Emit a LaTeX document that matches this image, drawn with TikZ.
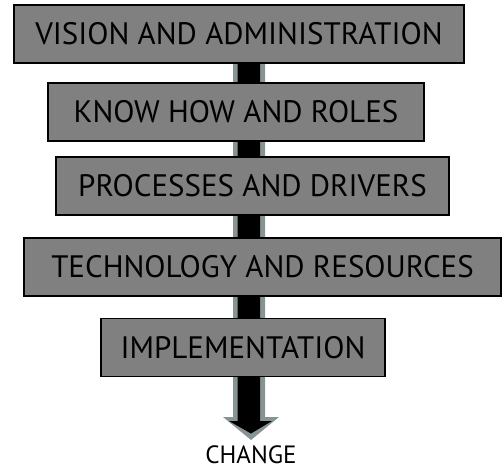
\documentclass[tikz,border=0pt]{standalone}
\usepackage{fontspec}
\setmainfont{PT Sans}
\definecolor{boxgray}{RGB}{128,128,128}
\definecolor{rimgray}{RGB}{136,148,148}
\begin{document}
\begin{tikzpicture}[x=1pt,y=-1pt,
  level/.style={draw=black,line width=1.5pt,fill=boxgray,minimum height=58pt,
    inner sep=0pt,font=\fontsize{31}{34}\selectfont,text=black},
  outcome/.style={inner sep=0pt,font=\fontsize{25}{28}\selectfont,text=black}]
\useasboundingbox (0,0) rectangle (502,470);
% central arrow running behind the stack of levels
\fill[rimgray] (233,30) -- (265,30) -- (265,417) -- (279,417) -- (251,440)
  -- (223,417) -- (233,417) -- cycle;
\fill[black] (237.5,30) -- (260,30) -- (260,421) -- (272,421) -- (251,433.5)
  -- (229,421) -- (237.5,421) -- cycle;
% levels
\node[level,minimum width=450pt] (vision) at (239,34) {VISION AND ADMINISTRATION};
\node[level,minimum width=376pt] (know) at (236,112) {KNOW HOW AND ROLES};
\node[level,minimum width=393pt] (proc) at (252.5,186) {PROCESSES AND DRIVERS};
\node[level,minimum width=477pt] (tech) at (262.5,267) {TECHNOLOGY AND RESOURCES};
\node[level,minimum width=284pt] (impl) at (243,347.5) {IMPLEMENTATION};
\node[outcome] (change) at (251,455) {CHANGE};
\end{tikzpicture}
\end{document}
